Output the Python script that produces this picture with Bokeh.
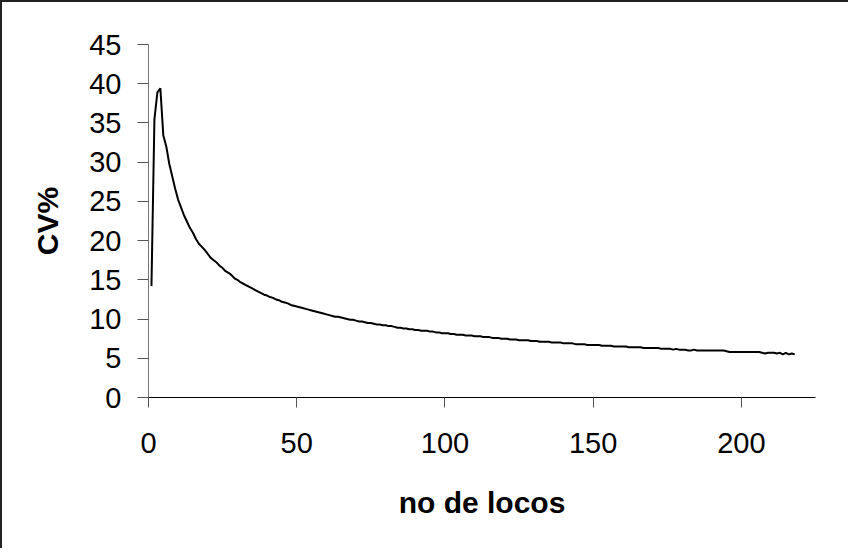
from bokeh.plotting import figure
from bokeh.models import Range1d, FixedTicker
from bokeh.embed import file_html
from bokeh.resources import INLINE

# CV% by number of loci
cv_values = [
    14.2, 35.5, 38.9, 39.4, 33.4, 32.0, 29.8, 28.2, 26.6, 25.2,
    24.2, 23.2, 22.4, 21.6, 21.0, 20.2, 19.6, 19.2, 18.8, 18.3,
    17.8, 17.5, 17.2, 16.8, 16.5, 16.1, 15.9, 15.6, 15.2, 15.0,
    14.7, 14.5, 14.3, 14.1, 13.9, 13.7, 13.5, 13.3, 13.1, 13.0,
    12.8, 12.7, 12.5, 12.4, 12.2, 12.1, 12.0, 11.8, 11.7, 11.6,
    11.5, 11.4, 11.3, 11.2, 11.1, 11.0, 10.9, 10.8, 10.7, 10.6,
    10.5, 10.4, 10.3, 10.3, 10.2, 10.1, 10.0, 9.9, 9.9, 9.8,
    9.7, 9.7, 9.6, 9.5, 9.5, 9.4, 9.3, 9.3, 9.2, 9.2,
    9.1, 9.1, 9.0, 8.9, 8.9, 8.8, 8.8, 8.7, 8.7, 8.6,
    8.6, 8.5, 8.5, 8.5, 8.4, 8.4, 8.3, 8.3, 8.2, 8.2,
    8.2, 8.1, 8.1, 8.0, 8.0, 8.0, 7.9, 7.9, 7.9, 7.8,
    7.8, 7.8, 7.7, 7.7, 7.7, 7.6, 7.6, 7.6, 7.5, 7.5,
    7.5, 7.4, 7.4, 7.4, 7.3, 7.3, 7.3, 7.3, 7.2, 7.2,
    7.2, 7.1, 7.1, 7.1, 7.1, 7.0, 7.0, 7.0, 7.0, 6.9,
    6.9, 6.9, 6.9, 6.8, 6.8, 6.8, 6.8, 6.7, 6.7, 6.7,
    6.7, 6.7, 6.6, 6.6, 6.6, 6.6, 6.5, 6.5, 6.5, 6.5,
    6.5, 6.4, 6.4, 6.4, 6.4, 6.4, 6.3, 6.3, 6.3, 6.3,
    6.3, 6.3, 6.2, 6.2, 6.2, 6.2, 6.1, 6.2, 6.1, 6.1,
    6.1, 6.0, 6.0, 6.1, 6.0, 6.0, 6.0, 6.0, 6.0, 6.0,
    6.0, 6.0, 6.0, 6.0, 5.9, 5.8, 5.8, 5.8, 5.8, 5.8,
    5.8, 5.8, 5.8, 5.8, 5.8, 5.8, 5.7, 5.6, 5.7, 5.7,
    5.7, 5.6, 5.7, 5.5, 5.7, 5.5, 5.6, 5.5,
]
n_loci = list(range(1, len(cv_values) + 1))

x_ticks = [0, 50, 100, 150, 200]
y_ticks = [0, 5, 10, 15, 20, 25, 30, 35, 40, 45]
x_title = "no de locos"
y_title = "CV%"

p = figure(
    width=848, height=548,
    output_backend="svg", toolbar_location=None,
    x_range=Range1d(0, 225), y_range=Range1d(0, 45),
    min_border_left=146, min_border_right=35,
    min_border_top=42, min_border_bottom=153,
    background_fill_color="white", border_fill_color="white",
)
p.styles = {"border-left": "2px solid #222222", "border-top": "2px solid #222222"}

p.line(n_loci, cv_values, line_color="black", line_width=2)

p.outline_line_color = None
p.xgrid.visible = False
p.ygrid.visible = False

font = "Liberation Sans"

p.xaxis.ticker = FixedTicker(ticks=x_ticks)
p.yaxis.ticker = FixedTicker(ticks=y_ticks)

for ax in (p.xaxis, p.yaxis):
    ax.minor_tick_line_color = None
    ax.major_tick_in = 0
    ax.major_label_text_font = font
    ax.major_label_text_font_size = "29px"
    ax.major_label_text_color = "black"
    ax.axis_label_text_font = font
    ax.axis_label_text_font_size = "30px"
    ax.axis_label_text_font_style = "bold"
    ax.axis_label_text_color = "black"

p.xaxis.axis_label = x_title
p.xaxis.axis_line_color = "black"
p.xaxis.major_tick_line_color = "#555555"
p.xaxis.major_tick_out = 10
p.xaxis.major_label_standoff = 25
p.xaxis.axis_label_standoff = 30

p.yaxis.axis_label = y_title
p.yaxis.axis_line_color = "#777777"
p.yaxis.major_tick_line_color = "#555555"
p.yaxis.major_tick_out = 11
p.yaxis.major_label_standoff = 16
p.yaxis.axis_label_standoff = 22

open("out.html", "w").write(file_html(p, INLINE))
